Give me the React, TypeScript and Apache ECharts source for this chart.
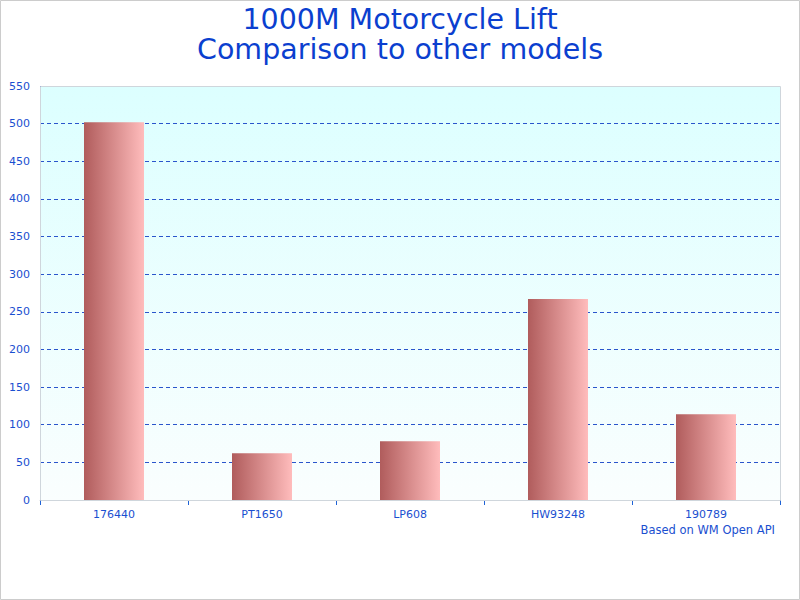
import React, { useEffect, useRef } from "react";
import * as echarts from "echarts";

const categories = ["176440", "PT1650", "LP608", "HW93248", "190789"];
const values = [502, 62, 78, 267, 114];
const yMin = 0;
const yMax = 550;
const yStep = 50;
const titleLines = ["1000M Motorcycle Lift", "Comparison to other models"];
const footnote = "Based on WM Open API";

export default function App() {
  const ref = useRef<HTMLDivElement>(null);
  useEffect(() => {
    if (!ref.current) return;
    const chart = echarts.init(ref.current, null, { renderer: "svg" });
    const font = "DejaVu Sans";
    const blue = "#1a4fd0";
    chart.setOption({
      animation: false,
      backgroundColor: "#ffffff",
      textStyle: { fontFamily: font },
      title: {
        text: titleLines.join("\n"),
        left: "center",
        top: -1,
        textStyle: { fontFamily: font, fontSize: 28.5, fontWeight: "normal", color: "#0b3fcf", lineHeight: 30 },
      },
      grid: {
        left: 40,
        right: 20,
        top: 86,
        bottom: 100,
        show: true,
        borderWidth: 0,
        backgroundColor: new echarts.graphic.LinearGradient(0, 0, 0, 1, [
          { offset: 0, color: "#dcffff" },
          { offset: 1, color: "#fafefe" },
        ]),
      },
      xAxis: {
        type: "category",
        data: categories,
        axisLine: { show: true, lineStyle: { color: "#cfd6dc", width: 1 } },
        axisTick: { show: true, length: 5, lineStyle: { color: "#1f63d6" } },
        axisLabel: { color: blue, fontSize: 11, margin: 9, fontFamily: font },
        splitLine: { show: false },
      },
      yAxis: {
        type: "value",
        min: yMin,
        max: yMax,
        interval: yStep,
        axisLine: { show: false },
        axisTick: { show: false },
        axisLabel: { color: blue, fontSize: 11, margin: 10, fontFamily: font },
        splitLine: { show: true, lineStyle: { color: "#2a55cc", type: [4, 3], width: 1 } },
      },
      series: [
        {
          type: "bar",
          data: values,
          barWidth: 60,
          itemStyle: {
            color: new echarts.graphic.LinearGradient(0, 0, 1, 0, [
              { offset: 0, color: "#b05c5c" },
              { offset: 1, color: "#ffbcbc" },
            ]),
          },
        },
      ],
      graphic: [
        {
          type: "rect",
          z: 100,
          silent: true,
          shape: { x: 40.5, y: 86.5, width: 740, height: 414 },
          style: { fill: "none", stroke: "#cfd6dc", lineWidth: 1 },
        },
        {
          type: "rect",
          z: 100,
          silent: true,
          shape: { x: 0.5, y: 0.5, width: 799, height: 599 },
          style: { fill: "none", stroke: "#cccccc", lineWidth: 1 },
        },
        {
          type: "text",
          z: 100,
          right: 25,
          top: 524,
          style: { text: footnote, fill: blue, font: `11.5px '${font}'` },
        },
      ],
    });
    return () => chart.dispose();
  }, []);
  return (
    <div
      ref={ref}
      style={{ position: "absolute", left: 0, top: 0, width: 800, height: 600 }}
    />
  );
}
